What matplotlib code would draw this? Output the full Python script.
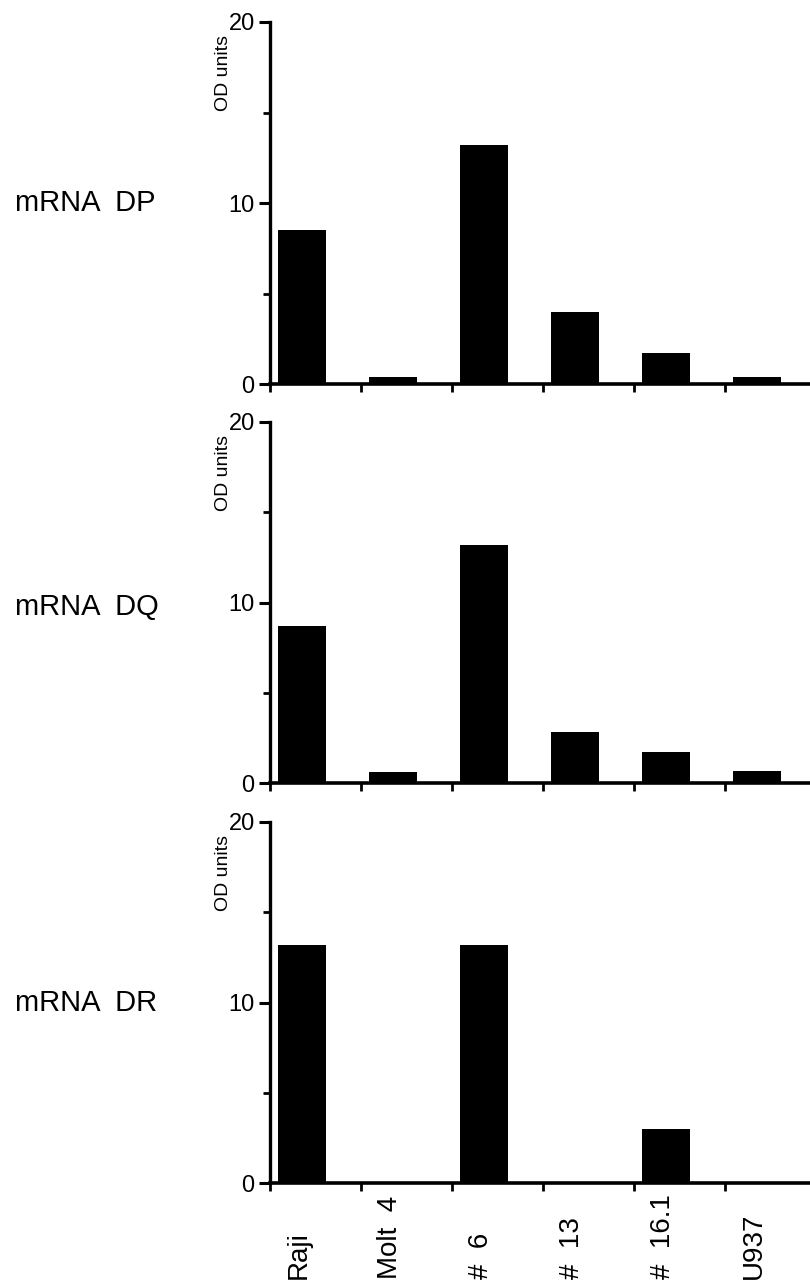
import matplotlib
matplotlib.use("Agg")
import matplotlib.pyplot as plt
import matplotlib.transforms as mtransforms
import numpy as np

categories = ["Raji", "Molt  4", "#  6", "#  13", "#  16.1", "U937"]
panel_names = ["mRNA  DP", "mRNA  DQ", "mRNA  DR"]
dp_values = [8.5, 0.4, 13.2, 4.0, 1.7, 0.4]
dq_values = [8.7, 0.6, 13.2, 2.8, 1.7, 0.65]
dr_values = [13.2, 0.0, 13.2, 0.0, 3.0, 0.0]
series = [dp_values, dq_values, dr_values]
ylabel = "OD units"
yticks_major = [0, 10, 20]
yticks_minor = [5, 15]

plt.rcParams['font.family'] = ['Liberation Sans', 'DejaVu Sans']

W, H = 810, 1285
fig = plt.figure(figsize=(W / 100, H / 100), dpi=100)

# panel geometry in pixels (top of y=20, y=0 line)
panels_px = [(22, 384), (422, 783), (822, 1183)]
left_px, right_px = 270, 810

x = np.arange(len(categories))
bar_offset = 0.355
bar_width = 0.53

axes = []
for i, ((ytop, ybot), vals, name) in enumerate(zip(panels_px, series, panel_names)):
    ax = fig.add_axes([left_px / W, 1 - ybot / H, (right_px - left_px) / W, (ybot - ytop) / H])
    axes.append(ax)
    ax.bar(x + bar_offset, vals, width=bar_width, color="black", edgecolor="none")
    ax.set_ylim(0, 20)
    ax.set_xlim(0, 540 / 91)
    for s in ["top", "right"]:
        ax.spines[s].set_visible(False)
    ax.spines["left"].set_linewidth(2.4)
    ax.spines["bottom"].set_linewidth(2.6)
    ax.set_yticks(yticks_major)
    ax.set_yticks(yticks_minor, minor=True)
    ax.tick_params(axis="y", which="major", direction="out", length=8, width=2.2,
                   labelsize=17, pad=3)
    ax.tick_params(axis="y", which="minor", direction="out", length=5, width=2)
    ax.set_xticks(x)
    ax.tick_params(axis="x", which="major", direction="out", length=6, width=2,
                   labelbottom=False)
    trans = mtransforms.blended_transform_factory(fig.transFigure, ax.transAxes)
    ax.text(223 / W, 0.86, ylabel, transform=trans, rotation=90, ha="center",
            va="center", fontsize=14)
    fig.text(15 / W, 1 - [203, 607, 1003][i] / H, name, ha="left", va="center",
             fontsize=21)

ax3 = axes[-1]
trans = mtransforms.blended_transform_factory(ax3.transData, fig.transFigure)
for xi, cat in zip(x, categories):
    ax3.text(xi + 0.32, 1 - 1279 / H, cat, transform=trans, rotation=90,
             ha="center", va="bottom", fontsize=20,
             rotation_mode="default", clip_on=False)

fig.savefig("out.png", dpi=100, facecolor="white")
